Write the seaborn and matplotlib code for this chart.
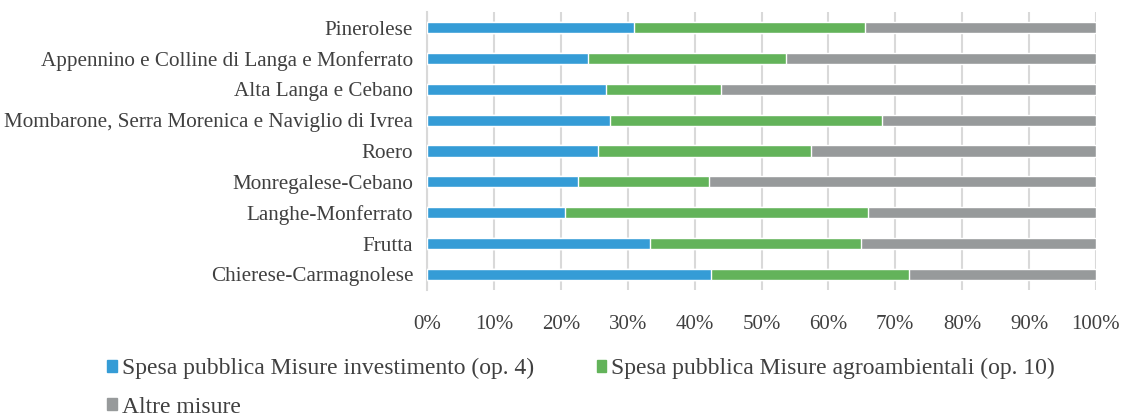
import matplotlib
matplotlib.use("Agg")
import matplotlib.pyplot as plt
import matplotlib.patches as mpatches
import seaborn as sns
import pandas as pd

# dati (quote % per area)
aree = [
    "Pinerolese",
    "Appennino e Colline di Langa e Monferrato",
    "Alta Langa e Cebano",
    "Mombarone, Serra Morenica e Naviglio di Ivrea",
    "Roero",
    "Monregalese-Cebano",
    "Langhe-Monferrato",
    "Frutta",
    "Chierese-Carmagnolese",
]
investimento = [30.9, 24.0, 26.8, 27.4, 25.5, 22.6, 20.6, 33.3, 42.5]
agroambientali = [34.6, 29.7, 17.1, 40.6, 31.9, 19.6, 45.3, 31.6, 29.5]
altre = [34.5, 46.3, 56.1, 32.0, 42.6, 57.8, 34.1, 35.1, 28.0]

serie = [
    "Spesa pubblica Misure investimento (op. 4)",
    "Spesa pubblica Misure agroambientali (op. 10)",
    "Altre misure",
]
colori = ["#359CD6", "#63B35A", "#979A9B"]

df = pd.DataFrame({"area": aree, "inv": investimento, "agro": agroambientali, "altre": altre})
df["c1"] = df["inv"]
df["c2"] = df["inv"] + df["agro"]
df["c3"] = df["c2"] + df["altre"]

sns.set_style("white")
plt.rcParams["font.family"] = ["Liberation Serif", "DejaVu Serif"]

fig = plt.figure(figsize=(11.22, 4.17), dpi=100)
ax = fig.add_axes([0.3806, 0.305, 0.5962, 0.666])

# barre cumulate, dalla piu lunga alla piu corta
for col, c in zip(["c3", "c2", "c1"], colori[::-1]):
    sns.barplot(data=df, y="area", x=col, orient="h", color=c, width=0.36,
                saturation=1, ax=ax, zorder=3)

ax.set_xlim(0, 100)
ax.set_xticks(range(0, 101, 10))
ax.set_xticklabels([f"{v}%" for v in range(0, 101, 10)], fontsize=15, color="#404040")
ax.tick_params(axis="y", labelsize=15.2, labelcolor="#404040", length=0, pad=10)
ax.tick_params(axis="x", length=0, pad=18)
ax.set_xlabel("")
ax.set_ylabel("")
ax.grid(axis="x", color="#D9D9D9", linewidth=1.5, zorder=0)
ax.set_axisbelow(True)
for s in ["top", "right", "bottom"]:
    ax.spines[s].set_visible(False)
ax.spines["left"].set_color("#D9D9D9")
ax.spines["left"].set_linewidth(1.5)

handles = [mpatches.Patch(color=c, label=s) for c, s in zip(colori, serie)]
order = [0, 2, 1]
fig.legend([handles[i] for i in order], [serie[i] for i in order], ncol=2,
           loc="upper left", bbox_to_anchor=(0.085, 0.17), frameon=False,
           fontsize=17, labelcolor="#404040", handlelength=0.42, handleheight=0.42,
           handletextpad=0.2, columnspacing=2.65, labelspacing=0.75, borderpad=0)

fig.savefig("out.png", dpi=100)
